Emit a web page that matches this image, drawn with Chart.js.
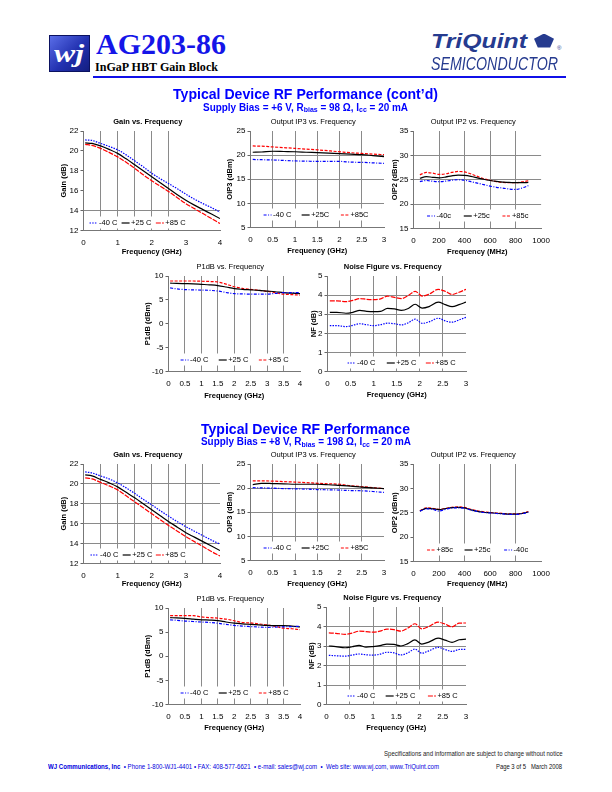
<!DOCTYPE html>
<html>
<head>
<meta charset="utf-8">
<title>AG203-86 RF Performance</title>
<script src="https://cdn.jsdelivr.net/npm/chart.js@4.4.1/dist/chart.umd.min.js"></script>
<style>
  html, body { margin: 0; padding: 0; background: #fff; }
  body { width: 612px; height: 792px; position: relative; overflow: hidden; }
  .txt { position: absolute; white-space: nowrap; line-height: 1; display: inline-block; transform-origin: 0 0; }
  .txt sub { font-size: 0.7em; position: relative; top: 0.25em; vertical-align: baseline; line-height: 0; }
  canvas { position: absolute; }
  #wj { position: absolute; left: 49px; top: 35px; width: 41px; height: 37px; box-sizing: border-box;
        background: linear-gradient(135deg, #5a6ee8 0%, #2231b0 55%, #141e80 100%); border: 1px solid #0b1260; }
  #hline { position: absolute; left: 93px; top: 75.5px; width: 473px; height: 2px; background: #1010e8; }
  #penta { position: absolute; left: 534px; top: 33.5px; width: 20px; height: 14px; background: #263b8f;
           clip-path: polygon(50% 0, 100% 38%, 81% 100%, 19% 100%, 0 38%); }
</style>
</head>
<body>
<div id="wj"></div>
<div id="hline"></div>
<div id="penta"></div>
<script>
const FONT = "'Liberation Sans Narrow','Liberation Sans',Arial,sans-serif";
const TICKFONT = "'Liberation Sans',Arial,sans-serif";
const SANS = "'Liberation Sans',Arial,sans-serif";
const SERIF = "'Liberation Serif','Times New Roman',serif";
const BLUE = '#0000ff', RED = '#ff0000', BLACK = '#000000';

// ---- data ----
const gainFreq = [0.05, 0.25, 0.5, 0.75, 1, 1.25, 1.5, 1.75, 2, 2.25, 2.5, 2.75, 3, 3.25, 3.5, 3.75, 4];
const gainTopM40 = [21.1, 21.05, 20.75, 20.45, 20.1, 19.6, 19.0, 18.4, 17.75, 17.2, 16.7, 16.2, 15.65, 15.15, 14.7, 14.3, 13.85];
const gainTopP25 = [20.8, 20.75, 20.5, 20.15, 19.75, 19.2, 18.6, 18.0, 17.4, 16.8, 16.2, 15.6, 15.05, 14.55, 14.1, 13.65, 13.2];
const gainTopP85 = [20.65, 20.55, 20.25, 19.85, 19.4, 18.85, 18.25, 17.6, 17.0, 16.45, 15.9, 15.3, 14.7, 14.2, 13.7, 13.2, 12.7];
const gainBotM40 = [21.2, 21.1, 20.8, 20.5, 20.1, 19.6, 19.05, 18.45, 17.9, 17.3, 16.75, 16.2, 15.7, 15.25, 14.8, 14.35, 13.95];
const gainBotP25 = [20.9, 20.8, 20.45, 20.1, 19.7, 19.15, 18.6, 18.0, 17.4, 16.8, 16.2, 15.65, 15.1, 14.65, 14.2, 13.75, 13.3];
const gainBotP85 = [20.6, 20.5, 20.15, 19.8, 19.4, 18.8, 18.2, 17.6, 17.0, 16.4, 15.8, 15.25, 14.7, 14.2, 13.7, 13.2, 12.75];

const oip3Freq = [0.05, 0.25, 0.5, 0.75, 1, 1.25, 1.5, 1.75, 2, 2.25, 2.5, 2.75, 3];
const oip3TopM40 = [19.1, 19.05, 19.0, 18.9, 18.8, 18.75, 18.7, 18.7, 18.7, 18.55, 18.5, 18.4, 18.3];
const oip3TopP25 = [20.6, 20.65, 20.8, 20.75, 20.7, 20.6, 20.5, 20.4, 20.3, 20.2, 20.1, 19.9, 19.7];
const oip3TopP85 = [21.9, 21.85, 21.7, 21.55, 21.4, 21.25, 21.1, 20.9, 20.7, 20.5, 20.35, 20.2, 20.1];
const oip3BotM40 = [20.1, 20.05, 20.0, 19.9, 19.85, 19.8, 19.7, 19.65, 19.6, 19.5, 19.45, 19.3, 19.1];
const oip3BotP25 = [20.7, 21.0, 20.95, 20.9, 20.8, 20.8, 20.8, 20.7, 20.55, 20.4, 20.2, 20.05, 19.9];
const oip3BotP85 = [21.5, 21.5, 21.45, 21.35, 21.25, 21.15, 21.0, 20.9, 20.8, 20.5, 20.3, 20.1, 19.9];

const oip2Freq = [50, 100, 150, 200, 250, 300, 350, 400, 450, 500, 550, 600, 650, 700, 750, 800, 850, 900];
const oip2TopM40 = [24.6, 24.85, 24.7, 24.6, 24.7, 24.9, 25.0, 24.9, 24.6, 24.3, 24.0, 23.7, 23.45, 23.3, 23.1, 23.0, 23.3, 23.8];
const oip2TopP25 = [25.3, 25.65, 25.5, 25.4, 25.55, 25.8, 25.95, 25.9, 25.7, 25.4, 25.1, 24.85, 24.65, 24.5, 24.45, 24.4, 24.4, 24.45];
const oip2TopP85 = [26.0, 26.5, 26.35, 26.1, 26.2, 26.5, 26.7, 26.6, 26.2, 25.7, 25.2, 24.9, 24.6, 24.45, 24.4, 24.4, 24.55, 24.8];
const oip2BotM40 = [25.3, 25.8, 25.7, 25.35, 25.7, 25.95, 26.0, 25.95, 25.55, 25.25, 25.05, 24.95, 24.85, 24.75, 24.65, 24.65, 24.8, 25.1];
const oip2BotP25 = [25.35, 25.9, 25.8, 25.65, 25.85, 26.05, 26.1, 26.0, 25.6, 25.3, 25.1, 25.0, 24.9, 24.8, 24.7, 24.7, 24.85, 25.15];
const oip2BotP85 = [25.4, 26.0, 25.9, 25.7, 25.9, 26.1, 26.2, 26.1, 25.7, 25.4, 25.2, 25.05, 24.95, 24.85, 24.75, 24.75, 24.9, 25.25];

const p1Freq = [0.05, 0.25, 0.5, 0.75, 1, 1.25, 1.5, 1.75, 2, 2.25, 2.5, 2.75, 3, 3.25, 3.5, 3.75, 4];
const p1TopM40 = [7.5, 7.3, 7.15, 7.1, 7.05, 7.0, 6.85, 6.55, 6.3, 6.25, 6.2, 6.2, 6.2, 6.35, 6.5, 6.5, 6.5];
const p1TopP25 = [8.5, 8.45, 8.4, 8.35, 8.25, 8.15, 8.0, 7.7, 7.35, 7.2, 7.1, 7.0, 6.85, 6.7, 6.5, 6.4, 6.3];
const p1TopP85 = [8.95, 8.95, 8.95, 8.95, 8.9, 8.85, 8.75, 8.3, 7.75, 7.4, 7.2, 7.0, 6.8, 6.5, 6.2, 6.1, 6.0];
const p1BotM40 = [7.55, 7.45, 7.3, 7.2, 7.1, 7.0, 6.85, 6.6, 6.4, 6.25, 6.15, 6.05, 6.0, 6.05, 6.1, 6.15, 6.2];
const p1BotP25 = [8.0, 7.95, 7.85, 7.7, 7.55, 7.5, 7.4, 7.1, 6.85, 6.7, 6.6, 6.5, 6.4, 6.35, 6.35, 6.25, 6.1];
const p1BotP85 = [8.4, 8.4, 8.4, 8.4, 8.15, 8.0, 7.9, 7.7, 7.35, 7.0, 6.9, 6.7, 6.5, 6.2, 5.8, 5.7, 5.5];

const nfFreq = [0.05, 0.2, 0.4, 0.55, 0.7, 0.85, 1.0, 1.15, 1.3, 1.45, 1.6, 1.75, 1.9, 2.05, 2.2, 2.4, 2.55, 2.7, 2.85, 3.0];
const nfTopM40 = [2.4, 2.4, 2.35, 2.42, 2.5, 2.45, 2.4, 2.45, 2.53, 2.5, 2.44, 2.55, 2.74, 2.52, 2.6, 2.79, 2.65, 2.58, 2.7, 2.84];
const nfTopP25 = [3.1, 3.1, 3.05, 3.1, 3.2, 3.15, 3.13, 3.15, 3.3, 3.28, 3.2, 3.3, 3.52, 3.32, 3.4, 3.63, 3.5, 3.4, 3.5, 3.63];
const nfTopP85 = [3.7, 3.7, 3.66, 3.72, 3.82, 3.78, 3.76, 3.8, 3.95, 3.88, 3.82, 3.98, 4.2, 3.95, 4.05, 4.3, 4.2, 4.03, 4.15, 4.3];
const nfBotM40 = [2.52, 2.5, 2.48, 2.53, 2.59, 2.55, 2.53, 2.58, 2.68, 2.65, 2.54, 2.65, 2.84, 2.63, 2.75, 2.93, 2.82, 2.72, 2.82, 2.83];
const nfBotP25 = [3.0, 2.97, 2.91, 2.96, 3.03, 2.94, 2.97, 3.02, 3.1, 3.08, 3.0, 3.12, 3.31, 3.1, 3.2, 3.4, 3.3, 3.19, 3.32, 3.35];
const nfBotP85 = [3.67, 3.65, 3.6, 3.66, 3.76, 3.74, 3.71, 3.76, 3.87, 3.84, 3.76, 3.92, 4.14, 3.88, 4.0, 4.22, 4.12, 3.98, 4.17, 4.18];

const tempLabels = ['-40 C', '+25 C', '+85 C'];
const oip3Labels = ['-40 C', '+25C', '+85C'];
const oip2Labels = ['-40c', '+25c', '+85c'];

// line style per chart family: [-40, +25, +85]
const dashes = {
  gain: [[1.5, 1.2], [], [5, 1.2]],
  ip:   [[3, 1.5, 1, 1.5], [], [3, 1.5]],
};
const colors = [BLUE, BLACK, RED];

// ---- chart layout ----
const charts = [
  { area: [83, 131, 219, 230], yTitleX: 63, xTitleY: 251, title: 'Gain vs. Frequency', bold: true,
    yTitle: 'Gain (dB)', xTitle: 'Frequency (GHz)', x: [0, 4, 0.5], y: [12, 22, 2], intLabels: true,
    xGrid: [0.5, 1, 1.5, 2, 2.5], yGrid: [14], freq: gainFreq, kind: 'gain',
    series: [gainTopM40, gainTopP25, gainTopP85], labels: tempLabels,
    legend: { fromBottom: 8, xs: [0.044, 0.279, 0.53], order: [0, 1, 2] } },
  { area: [250, 131, 383, 227], yTitleX: 229, xTitleY: 250, title: 'Output IP3 vs. Frequency',
    yTitle: 'OIP3 (dBm)', xTitle: 'Frequency (GHz)', x: [0, 3, 0.5], y: [5, 25, 5],
    xGrid: [0.5, 1, 1.5, 2, 2.5], yGrid: [10, 15, 20], freq: oip3Freq, kind: 'ip',
    series: [oip3TopM40, oip3TopP25, oip3TopP85], labels: oip3Labels,
    legend: { fromBottom: 13, xs: [0.098, 0.383, 0.677], order: [0, 1, 2] } },
  { area: [413, 131, 545, 228], yTitleX: 394, xTitleY: 251, title: 'Output IP2 vs. Frequency',
    yTitle: 'OIP2 (dBm)', xTitle: 'Frequency (MHz)', x: [0, 1000, 200], y: [15, 35, 5],
    xGrid: [200, 400, 600, 800], yGrid: [20, 25, 30], freq: oip2Freq, kind: 'ip',
    series: [oip2TopM40, oip2TopP25, oip2TopP85], labels: oip2Labels,
    legend: { fromBottom: 13, xs: [0.106, 0.394, 0.697], order: [0, 1, 2] } },
  { area: [168, 276, 299, 371], yTitleX: 147, xTitleY: 395, title: 'P1dB vs. Frequency',
    yTitle: 'P1dB (dBm)', xTitle: 'Frequency (GHz)', x: [0, 4, 0.5], y: [-10, 10, 5],
    xGrid: [0.5, 1, 1.5, 2, 2.5, 3, 3.5], yGrid: [], freq: p1Freq, kind: 'ip',
    series: [p1TopM40, p1TopP25, p1TopP85], labels: tempLabels,
    legend: { fromBottom: 12, xs: [0.092, 0.382, 0.687], order: [0, 1, 2] } },
  { area: [327, 276, 465, 371], yTitleX: 313, xTitleY: 394, title: 'Noise Figure vs. Frequency', bold: true,
    yTitle: 'NF (dB)', xTitle: 'Frequency (GHz)', x: [0, 3, 0.5], y: [0, 5, 1],
    xGrid: [0.5, 1, 1.5, 2, 2.5], yGrid: [1, 2, 3, 4], freq: nfFreq, kind: 'gain',
    series: [nfTopM40, nfTopP25, nfTopP85], labels: tempLabels,
    legend: { fromBottom: 9, xs: [0.145, 0.428, 0.71], order: [0, 1, 2] } },

  { area: [83, 464, 219, 563], yTitleX: 63, xTitleY: 583, title: 'Gain vs. Frequency', bold: true,
    yTitle: 'Gain (dB)', xTitle: 'Frequency (GHz)', x: [0, 4, 0.5], y: [12, 22, 2], intLabels: true,
    xGrid: [0.5, 1, 1.5, 2, 2.5, 3, 3.5], yGrid: [14, 16, 18, 20], freq: gainFreq, kind: 'gain',
    series: [gainBotM40, gainBotP25, gainBotP85], labels: tempLabels,
    legend: { fromBottom: 9, xs: [0.051, 0.287, 0.53], order: [0, 1, 2] } },
  { area: [250, 464, 383, 560], yTitleX: 229, xTitleY: 583, title: 'Output IP3 vs. Frequency',
    yTitle: 'OIP3 (dBm)', xTitle: 'Frequency (GHz)', x: [0, 3, 0.5], y: [5, 25, 5],
    xGrid: [0.5, 1, 1.5, 2, 2.5], yGrid: [10, 15, 20], freq: oip3Freq, kind: 'ip',
    series: [oip3BotM40, oip3BotP25, oip3BotP85], labels: oip3Labels,
    legend: { fromBottom: 13, xs: [0.098, 0.383, 0.677], order: [0, 1, 2] } },
  { area: [413, 464, 545, 561], yTitleX: 394, xTitleY: 583, title: 'Output IP2 vs. Frequency',
    yTitle: 'OIP2 (dBm)', xTitle: 'Frequency (MHz)', x: [0, 1000, 200], y: [15, 35, 5],
    xGrid: [200, 400, 600, 800], yGrid: [], freq: oip2Freq, kind: 'ip',
    series: [oip2BotM40, oip2BotP25, oip2BotP85], labels: oip2Labels,
    legend: { fromBottom: 12, xs: [0.106, 0.40, 0.71], order: [2, 1, 0] } },
  { area: [168, 608, 299, 704], yTitleX: 147, xTitleY: 727, title: 'P1dB vs. Frequency',
    yTitle: 'P1dB (dBm)', xTitle: 'Frequency (GHz)', x: [0, 4, 0.5], y: [-10, 10, 5],
    xGrid: [0.5, 1, 1.5, 2, 2.5, 3, 3.5], yGrid: [], freq: p1Freq, kind: 'ip',
    series: [p1BotM40, p1BotP25, p1BotP85], labels: tempLabels,
    legend: { fromBottom: 12, xs: [0.092, 0.382, 0.687], order: [0, 1, 2] } },
  { area: [326, 607, 465, 704], yTitleX: 311, xTitleY: 727, title: 'Noise Figure vs. Frequency', bold: true,
    yTitle: 'NF (dB)', xTitle: 'Frequency (GHz)', x: [0, 3, 0.5], y: [0, 5, 1],
    xGrid: [0.5, 1, 1.5, 2, 2.5], yGrid: [1, 2, 3, 4], freq: nfFreq, kind: 'gain',
    series: [nfBotM40, nfBotP25, nfBotP85], labels: tempLabels,
    legend: { fromBottom: 9, xs: [0.151, 0.424, 0.727], order: [0, 1, 2] } },
];

// chart title drawn just above the plot area
const titlePlugin = {
  id: 'ttl',
  afterDraw(chart, args, o) {
    const a = chart.chartArea, ctx = chart.ctx;
    ctx.save();
    ctx.font = (o.bold ? 'bold ' : '') + '7.5px ' + FONT;
    ctx.fillStyle = '#000';
    ctx.textAlign = 'center';
    ctx.textBaseline = 'middle';
    ctx.fillText(o.text, (a.left + a.right) / 2 - 4, a.top - 9.5);
    ctx.restore();
  }
};

// Excel-style legend sitting inside the plot, near the bottom
const boxLegend = {
  id: 'boxLegend',
  beforeDatasetsDraw(chart, args, o) {
    const a = chart.chartArea, ctx = chart.ctx, w = a.right - a.left;
    const yc = a.bottom - o.fromBottom;
    ctx.save();
    ctx.font = '7.5px ' + FONT;
    const last = chart.data.datasets[o.order[o.order.length - 1]].label;
    const x0 = a.left + o.xs[0] * w - 3;
    const x1 = a.left + o.xs[o.xs.length - 1] * w + 9.5 + ctx.measureText(last).width + 3;
    ctx.fillStyle = '#fff';
    ctx.fillRect(x0, yc - 6, x1 - x0, 12);
    ctx.restore();
  },
  afterDatasetsDraw(chart, args, o) {
    const a = chart.chartArea, ctx = chart.ctx, w = a.right - a.left;
    const yc = a.bottom - o.fromBottom;
    ctx.save();
    ctx.font = '7.5px ' + FONT;
    ctx.textBaseline = 'middle';
    o.order.forEach((di, k) => {
      const ds = chart.data.datasets[di];
      const x = a.left + o.xs[k] * w;
      ctx.strokeStyle = ds.borderColor;
      ctx.lineWidth = 1.2;
      ctx.setLineDash(ds.borderDash || []);
      ctx.beginPath();
      ctx.moveTo(x, yc + 0.5);
      ctx.lineTo(x + 8, yc + 0.5);
      ctx.stroke();
      ctx.setLineDash([]);
      ctx.fillStyle = '#000';
      ctx.fillText(ds.label, x + 9.5, yc);
    });
    ctx.restore();
  }
};

const near = (list, v) => list.some(g => Math.abs(g - v) < 1e-6);

charts.forEach((c) => {
  const [l, t, r, b] = c.area;
  const cl = c.yTitleX - 4.5, ct = t - 16, cr = r + 8, cb = c.xTitleY + 4.5;
  const cv = document.createElement('canvas');
  cv.width = Math.round(cr - cl);
  cv.height = Math.round(cb - ct);
  cv.style.left = cl + 'px';
  cv.style.top = ct + 'px';
  cv.style.width = cv.width + 'px';
  cv.style.height = cv.height + 'px';
  document.body.appendChild(cv);

  const datasets = c.series.map((vals, i) => ({
    label: c.labels[i],
    data: c.freq.map((f, k) => ({ x: f, y: vals[k] })),
    borderColor: colors[i],
    borderDash: dashes[c.kind][i],
    borderWidth: 1.2,
    pointRadius: 0,
    cubicInterpolationMode: 'monotone',
    fill: false,
  }));

  new Chart(cv.getContext('2d'), {
    type: 'line',
    data: { datasets },
    plugins: [titlePlugin, boxLegend],
    options: {
      responsive: false,
      animation: false,
      devicePixelRatio: 1,
      layout: { padding: { left: 0, top: 16, right: 8, bottom: 0 } },
      plugins: {
        legend: { display: false },
        tooltip: { enabled: false },
        ttl: { text: c.title, bold: !!c.bold },
        boxLegend: c.legend,
      },
      scales: {
        x: {
          type: 'linear', min: c.x[0], max: c.x[1],
          afterFit(s) { s.height = cb - b; },
          ticks: {
            stepSize: c.x[2], autoSkip: false, maxRotation: 0, padding: 4, color: '#000',
            font: { family: TICKFONT, size: 8 },
            callback: v => (c.intLabels && !Number.isInteger(v)) ? '' : String(v),
          },
          grid: {
            color: ctx => (ctx.tick && near(c.xGrid, ctx.tick.value)) ? '#8a8a8a' : 'rgba(0,0,0,0)',
            tickLength: 3, tickColor: 'rgba(0,0,0,0)', lineWidth: 1,
          },
          border: { color: '#777', width: 1 },
          title: { display: true, text: c.xTitle, color: '#000', padding: 0,
                   font: { family: FONT, size: 7.5, weight: 'bold', lineHeight: 1.2 } },
        },
        y: {
          min: c.y[0], max: c.y[1],
          afterFit(s) { s.width = l - cl; },
          ticks: {
            stepSize: c.y[2], padding: 2, color: '#000',
            font: { family: TICKFONT, size: 8 },
            callback: v => String(v),
          },
          grid: {
            color: ctx => (ctx.tick && near(c.yGrid, ctx.tick.value)) ? '#8a8a8a' : 'rgba(0,0,0,0)',
            tickLength: 3, tickColor: '#666', lineWidth: 1,
          },
          border: { color: '#777', width: 1 },
          title: { display: true, text: c.yTitle, color: '#000', padding: 0,
                   font: { family: FONT, size: 7.5, weight: 'bold', lineHeight: 1.2 } },
        },
      },
    },
  });
});

// ---- page text (headers, logos, footer) ----
const texts = [
  { h: 'wj', x: 54, b: 62, s: 25, f: SERIF, w: 'bold', i: true, c: '#fff', fit: 30 },
  { h: 'AG203-86', x: 96, b: 54.3, s: 29, f: SERIF, w: 'bold', c: '#1515e8', fit: 130 },
  { h: 'InGaP HBT Gain Block', x: 95, b: 71.5, s: 12, f: SERIF, w: 'bold', c: '#000', fit: 123 },
  { h: 'TriQuint', x: 431, b: 47.4, s: 21, f: SANS, w: 'bold', i: true, c: '#263b8f', fit: 96 },
  { h: '®', x: 557, b: 50, s: 6, f: SANS, c: '#263b8f' },
  { h: 'SEMICONDUCTOR', x: 431, b: 69.8, s: 18, f: SANS, i: true, c: '#263b8f', fit: 127 },
  { h: 'Typical Device RF Performance (cont’d)', x: 173, b: 99, s: 14, f: SANS, w: 'bold', c: '#0000ff', fit: 265 },
  { h: 'Supply Bias = +6 V, R<sub>bias</sub> = 98 Ω, I<sub>cc</sub> = 20 mA', x: 203, b: 111, s: 10, f: SANS, w: 'bold', c: '#0000ff', fit: 205 },
  { h: 'Typical Device RF Performance', x: 201, b: 433.5, s: 14, f: SANS, w: 'bold', c: '#0000ff', fit: 209 },
  { h: 'Supply Bias = +8 V, R<sub>bias</sub> = 198 Ω, I<sub>cc</sub> = 20 mA', x: 201, b: 445.5, s: 10, f: SANS, w: 'bold', c: '#0000ff', fit: 210 },
  { h: 'Specifications and information are subject to change without notice', x: 383.6, b: 755.5, s: 7, f: SANS, c: '#222', fit: 178.6 },
  { h: '<b>WJ Communications, Inc</b> &nbsp;• Phone 1-800-WJ1-4401 • FAX: 408-577-6621 &nbsp;• e-mail: sales@wj.com &nbsp;• &nbsp;Web site: www.wj.com, www.TriQuint.com', x: 48, b: 769.3, s: 7, f: SANS, c: '#0000dd', fit: 391 },
  { h: 'Page 3 of 5 &nbsp; March 2008', x: 496, b: 769.3, s: 7, f: SANS, c: '#111', fit: 66 },
];

texts.forEach(o => {
  const el = document.createElement('span');
  el.className = 'txt';
  el.innerHTML = o.h;
  el.style.fontFamily = o.f;
  el.style.fontSize = o.s + 'px';
  el.style.fontWeight = o.w || 'normal';
  el.style.fontStyle = o.i ? 'italic' : 'normal';
  el.style.color = o.c;
  const k = o.f === SERIF ? 0.8375 : 0.8465;
  el.style.left = o.x + 'px';
  el.style.top = (o.b - k * o.s) + 'px';
  document.body.appendChild(el);
  if (o.fit) {
    const wNow = el.getBoundingClientRect().width;
    el.style.transform = 'scaleX(' + (o.fit / wNow) + ')';
  }
});
</script>
</body>
</html>
